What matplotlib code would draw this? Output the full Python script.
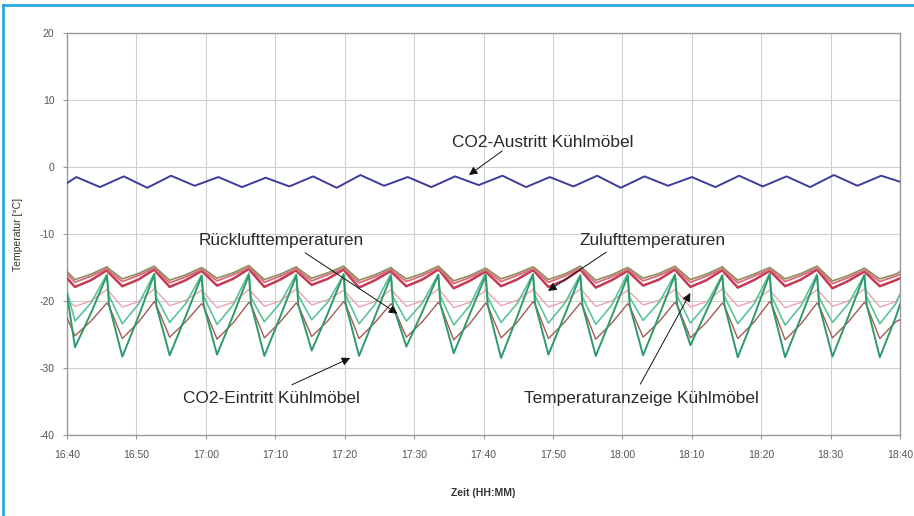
import matplotlib
matplotlib.use("Agg")
import matplotlib.pyplot as plt
from matplotlib.lines import Line2D

plt.rcParams['font.family'] = ['Liberation Sans', 'DejaVu Sans']
plt.rcParams['axes.unicode_minus'] = False

# ---------------- data ----------------
TICK_MINUTES = [0, 10, 20, 30, 40, 50, 60, 70, 80, 90, 100, 110, 120]
TICK_LABELS = ["16:40", "16:50", "17:00", "17:10", "17:20", "17:30", "17:40",
               "17:50", "18:00", "18:10", "18:20", "18:30", "18:40"]
Y_TICKS = [-40, -30, -20, -10, 0, 10, 20]

# CO2-Austritt Kühlmöbel (blue)
T_BLUE = [0.0, 1.35, 4.75, 8.17, 11.57, 14.99, 18.39, 21.81, 25.21, 28.63, 32.03,
          35.45, 38.85, 42.27, 45.67, 49.09, 52.49, 55.91, 59.31, 62.73, 66.13,
          69.55, 72.95, 76.37, 79.77, 83.19, 86.59, 90.01, 93.41, 96.83, 100.23,
          103.65, 107.05, 110.47, 113.87, 117.29, 120.0]
CO2_AUSTRITT = [-2.4, -1.5, -3.0, -1.4, -3.1, -1.3, -2.8, -1.5, -3.0, -1.6, -2.9,
                -1.4, -3.1, -1.2, -2.8, -1.5, -3.0, -1.4, -2.7, -1.3, -3.0,
                -1.5, -2.9, -1.3, -3.1, -1.4, -2.8, -1.5, -3.0, -1.3, -2.9,
                -1.4, -3.0, -1.2, -2.8, -1.3, -2.2]

# time base of the lower curves (minutes after 16:40)
T_LOW = [0.0,
         1.15, 3.45, 5.75, 6.05,
         7.97, 10.27, 12.57, 12.87,
         14.79, 17.09, 19.39, 19.69,
         21.61, 23.91, 26.21, 26.51,
         28.43, 30.73, 33.03, 33.33,
         35.25, 37.55, 39.85, 40.15,
         42.07, 44.37, 46.67, 46.97,
         48.89, 51.19, 53.49, 53.79,
         55.71, 58.01, 60.31, 60.61,
         62.53, 64.83, 67.13, 67.43,
         69.35, 71.65, 73.95, 74.25,
         76.17, 78.47, 80.77, 81.07,
         82.99, 85.29, 87.59, 87.89,
         89.81, 92.11, 94.41, 94.71,
         96.63, 98.93, 101.23, 101.53,
         103.45, 105.75, 108.05, 108.35,
         110.27, 112.57, 114.87, 115.17,
         117.09, 119.39, 120.0]

# Zulufttemperaturen (red band + olive)
ZULUFT_1 = [-16.6,
            -17.9, -16.9, -15.4, -15.8,
            -17.8, -16.8, -15.3, -15.7,
            -17.9, -16.9, -15.5, -15.8,
            -17.7, -16.7, -15.2, -15.6,
            -17.9, -16.8, -15.4, -15.8,
            -17.6, -16.7, -15.3, -15.7,
            -18.0, -16.9, -15.5, -15.9,
            -17.8, -16.8, -15.3, -15.6,
            -18.1, -17.0, -15.6, -15.9,
            -17.8, -16.8, -15.4, -15.7,
            -17.9, -16.9, -15.3, -15.7,
            -18.0, -16.9, -15.5, -15.8,
            -17.7, -16.8, -15.3, -15.7,
            -17.9, -16.9, -15.4, -15.8,
            -18.0, -16.9, -15.5, -15.8,
            -17.8, -16.8, -15.3, -15.7,
            -18.1, -17.0, -15.6, -15.9,
            -17.8, -16.9, -16.6]
ZULUFT_2 = [-16.0,
            -17.2, -16.3, -15.2, -15.5,
            -17.1, -16.2, -15.1, -15.4,
            -17.3, -16.4, -15.3, -15.5,
            -17.0, -16.1, -15.0, -15.3,
            -17.2, -16.3, -15.2, -15.5,
            -17.0, -16.1, -15.1, -15.4,
            -17.3, -16.4, -15.3, -15.6,
            -17.1, -16.2, -15.1, -15.4,
            -17.4, -16.5, -15.4, -15.6,
            -17.1, -16.2, -15.2, -15.4,
            -17.2, -16.3, -15.1, -15.4,
            -17.3, -16.4, -15.3, -15.5,
            -17.0, -16.2, -15.1, -15.4,
            -17.2, -16.3, -15.2, -15.5,
            -17.3, -16.3, -15.3, -15.5,
            -17.1, -16.2, -15.1, -15.4,
            -17.4, -16.5, -15.4, -15.6,
            -17.1, -16.3, -16.0]
ZULUFT_OLIVE = [-15.6,
                -16.8, -16.0, -14.9, -15.2,
                -16.7, -15.9, -14.8, -15.1,
                -16.9, -16.1, -15.0, -15.2,
                -16.6, -15.8, -14.7, -15.0,
                -16.8, -16.0, -14.9, -15.2,
                -16.6, -15.8, -14.8, -15.1,
                -16.9, -16.1, -15.0, -15.3,
                -16.7, -15.9, -14.8, -15.1,
                -17.0, -16.2, -15.1, -15.3,
                -16.7, -15.9, -14.9, -15.1,
                -16.8, -16.0, -14.8, -15.1,
                -16.9, -16.1, -15.0, -15.2,
                -16.6, -15.9, -14.8, -15.1,
                -16.8, -16.0, -14.9, -15.2,
                -16.9, -16.0, -15.0, -15.2,
                -16.7, -15.9, -14.8, -15.1,
                -17.0, -16.2, -15.1, -15.3,
                -16.7, -16.0, -15.6]

# Rücklufttemperaturen (pink thin, light green)
RUECKLUFT_PINK = [-19.8,
                  -20.8, -20.0, -18.3, -18.6,
                  -20.9, -20.1, -18.2, -18.5,
                  -20.7, -19.9, -18.4, -18.7,
                  -21.0, -20.2, -18.3, -18.6,
                  -20.8, -20.0, -18.2, -18.5,
                  -20.6, -19.8, -18.4, -18.7,
                  -20.9, -20.1, -18.3, -18.6,
                  -20.8, -20.0, -18.2, -18.5,
                  -21.0, -20.2, -18.4, -18.7,
                  -20.7, -19.9, -18.3, -18.6,
                  -20.9, -20.1, -18.2, -18.5,
                  -20.8, -20.0, -18.4, -18.7,
                  -20.6, -19.9, -18.3, -18.6,
                  -20.9, -20.1, -18.2, -18.5,
                  -20.8, -20.0, -18.4, -18.7,
                  -21.0, -20.2, -18.3, -18.6,
                  -20.8, -20.0, -18.2, -18.5,
                  -20.9, -20.1, -19.0]
RUECKLUFT_GREEN = [-18.5,
                   -23.0, -20.3, -16.0, -19.2,
                   -23.4, -20.5, -15.9, -19.4,
                   -23.2, -20.4, -16.1, -19.3,
                   -23.5, -20.6, -15.8, -19.5,
                   -23.1, -20.3, -16.0, -19.2,
                   -22.8, -20.2, -16.1, -19.1,
                   -23.4, -20.5, -15.9, -19.4,
                   -23.0, -20.3, -16.0, -19.3,
                   -23.6, -20.7, -15.8, -19.5,
                   -23.2, -20.4, -16.0, -19.2,
                   -23.3, -20.4, -16.1, -19.4,
                   -23.5, -20.6, -15.9, -19.5,
                   -22.9, -20.2, -16.0, -19.2,
                   -23.3, -20.5, -16.1, -19.3,
                   -23.4, -20.5, -15.9, -19.4,
                   -23.6, -20.7, -16.0, -19.5,
                   -23.2, -20.4, -16.1, -19.3,
                   -23.4, -20.4, -19.0]

# CO2-Eintritt Kühlmöbel (dark green)
CO2_EINTRITT = [-19.0,
                -26.9, -21.8, -16.2, -20.5,
                -28.3, -22.4, -16.0, -20.7,
                -28.1, -22.3, -16.3, -20.6,
                -28.0, -22.2, -16.1, -20.4,
                -28.2, -22.3, -16.2, -20.6,
                -27.4, -21.9, -16.0, -20.5,
                -28.2, -22.3, -16.3, -20.7,
                -26.8, -21.6, -16.1, -20.5,
                -27.8, -22.0, -16.2, -20.6,
                -28.5, -22.4, -16.0, -20.4,
                -28.0, -22.2, -16.2, -20.6,
                -28.2, -22.3, -16.3, -20.7,
                -28.1, -22.2, -16.1, -20.5,
                -26.6, -21.5, -16.2, -20.6,
                -28.4, -22.4, -16.0, -20.5,
                -28.4, -22.4, -16.2, -20.6,
                -28.3, -22.3, -16.1, -20.4,
                -28.4, -22.4, -20.5]

# Temperaturanzeige Kühlmöbel (brown)
TEMP_ANZEIGE = [-22.5,
                -25.2, -23.0, -20.3, -20.7,
                -25.6, -23.2, -20.1, -20.6,
                -25.4, -23.1, -20.4, -20.8,
                -25.7, -23.3, -20.2, -20.6,
                -25.5, -23.1, -20.3, -20.7,
                -25.3, -23.0, -20.1, -20.5,
                -25.6, -23.2, -20.4, -20.8,
                -25.4, -23.1, -20.2, -20.6,
                -25.8, -23.4, -20.3, -20.7,
                -25.5, -23.2, -20.1, -20.5,
                -25.6, -23.2, -20.3, -20.7,
                -25.7, -23.3, -20.4, -20.8,
                -25.4, -23.1, -20.2, -20.6,
                -25.5, -23.2, -20.3, -20.7,
                -25.6, -23.2, -20.1, -20.5,
                -25.8, -23.4, -20.3, -20.7,
                -25.5, -23.1, -20.2, -20.6,
                -25.6, -23.1, -22.8]

# ---------------- figure ----------------
fig = plt.figure(figsize=(9.14, 5.16), dpi=100)
fig.patch.set_facecolor('white')
ax = fig.add_axes([67 / 914, 1 - 435 / 516, (900 - 67) / 914, (435 - 33) / 516])

ax.set_xlim(0, 120)
ax.set_ylim(-40, 20)
ax.set_xticks(TICK_MINUTES)
ax.set_xticklabels(TICK_LABELS)
ax.set_yticks(Y_TICKS)
ax.grid(True, color='#cfcfcf', linewidth=0.8)
ax.set_axisbelow(True)
for s in ax.spines.values():
    s.set_color('#9a9a9a')
    s.set_linewidth(1.0)
ax.tick_params(axis='both', labelsize=7.5, colors='#9a9a9a', labelcolor='#555555',
               length=3, width=0.8)
ax.tick_params(axis='x', pad=8)
ax.tick_params(axis='y', pad=6)

ax.plot(T_LOW, RUECKLUFT_PINK, color='#eba3ae', lw=1.0, zorder=3)
ax.plot(T_LOW, TEMP_ANZEIGE, color='#a55a52', lw=1.0, zorder=3)
ax.plot(T_LOW, RUECKLUFT_GREEN, color='#5cc29a', lw=1.2, zorder=4)
ax.plot(T_LOW, CO2_EINTRITT, color='#2e9a6c', lw=1.4, zorder=4)
ax.plot(T_LOW, ZULUFT_1, color='#c43a52', lw=1.8, zorder=5)
ax.plot(T_LOW, ZULUFT_2, color='#d96a7c', lw=1.3, zorder=5)
ax.plot(T_LOW, ZULUFT_OLIVE, color='#8f8c5c', lw=1.2, zorder=6)
ax.plot(T_BLUE, CO2_AUSTRITT, color='#3c3c9c', lw=1.4, zorder=6)

ax.set_xlabel("Zeit (HH:MM)", fontsize=7.5, fontweight='bold', color='#333333', labelpad=20)
ax.set_ylabel("Temperatur [°C]", fontsize=7.5, color='#333333', labelpad=12)

arrow = dict(arrowstyle='-|>,head_length=0.5,head_width=0.25', color='#111111',
             lw=0.7, shrinkA=0, shrinkB=0)
txt = dict(fontsize=12.4, color='#2a2a2a', ha='center', va='center')
ax.annotate("", xy=(57.9, -1.2), xytext=(62.7, 2.4), arrowprops=arrow, zorder=8)
ax.text(68.6, 3.6, "CO2-Austritt Kühlmöbel", **txt)
ax.annotate("", xy=(47.6, -21.9), xytext=(34.3, -12.8), arrowprops=arrow, zorder=8)
ax.text(30.8, -11.0, "Rücklufttemperaturen", **txt)
ax.annotate("", xy=(69.3, -18.5), xytext=(77.7, -12.7), arrowprops=arrow, zorder=8)
ax.text(84.3, -11.0, "Zulufttemperaturen", **txt)
ax.annotate("", xy=(40.8, -28.5), xytext=(32.4, -32.5), arrowprops=arrow, zorder=8)
ax.text(29.4, -34.6, "CO2-Eintritt Kühlmöbel", **txt)
ax.annotate("", xy=(89.8, -18.8), xytext=(82.6, -32.4), arrowprops=arrow, zorder=8)
ax.text(82.7, -34.5, "Temperaturanzeige Kühlmöbel", **txt)

# blue frame (left and top)
fig.add_artist(Line2D([3 / 914, 3 / 914], [0, 1 - 5 / 516], transform=fig.transFigure,
                      color='#2aa8e0', lw=2))
fig.add_artist(Line2D([3 / 914, 1], [1 - 5 / 516, 1 - 5 / 516], transform=fig.transFigure,
                      color='#2aa8e0', lw=2))

fig.savefig("out.png", dpi=100)
